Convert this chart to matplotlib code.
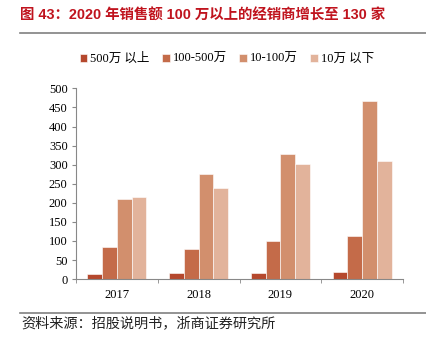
import numpy as np
import matplotlib.pyplot as plt
from matplotlib.lines import Line2D

plt.rcParams['font.family'] = ['Liberation Serif', 'Noto Sans CJK SC']

years = ['2017', '2018', '2019', '2020']
series_names = ['500万 以上', '100-500万', '10-100万', '10万 以下']
above_500 = [13, 16, 17, 19]
from_100_500 = [84, 78, 101, 113]
from_10_100 = [210, 276, 328, 468]
below_10 = [215, 239, 303, 309]
colors = ['#B5482D', '#C46B49', '#D28F6D', '#E2B39B']

fig = plt.figure(figsize=(4.27, 3.48), dpi=100)
ax = fig.add_axes([0.178, 0.198, 0.766, 0.548])

x = np.arange(len(years))
w = 0.18
all_series = [above_500, from_100_500, from_10_100, below_10]
for i, vals in enumerate(all_series):
    ax.bar(x + (i - 1.5) * w, vals, w, color=colors[i], edgecolor='white',
           linewidth=0.4, label=series_names[i])

ax.set_xlim(-0.5, 3.5)
ax.set_ylim(0, 500)
ax.set_yticks(range(0, 501, 50))
ax.set_xticks(x)
ax.set_xticklabels(years, fontsize=9)
ax.set_xticks(np.arange(-0.5, 3.6, 1), minor=True)
ax.tick_params(axis='x', which='major', length=0, pad=7)
ax.tick_params(axis='x', which='minor', length=3, color='#888888', direction='out')
ax.tick_params(axis='y', labelsize=9, length=3, color='#888888', pad=3)
for s in ['top', 'right']:
    ax.spines[s].set_visible(False)
for s in ['left', 'bottom']:
    ax.spines[s].set_color('#888888')
    ax.spines[s].set_linewidth(0.8)

leg = fig.legend(loc='upper left', bbox_to_anchor=(0.16, 0.88), ncol=4, frameon=False,
                 fontsize=9, handlelength=0.6, handleheight=0.6, handletextpad=0.25,
                 columnspacing=1.0)

fig.text(0.048, 0.955, '图 43：2020 年销售额 100 万以上的经销商增长至 130 家',
         fontsize=10.4, fontweight='bold', color='#C0141E', va='center',
         family=['Liberation Sans', 'Noto Sans CJK SC'])
fig.add_artist(Line2D([0.047, 1.0], [0.905, 0.905], color='#808080', linewidth=1.2))
fig.add_artist(Line2D([0.047, 1.0], [0.101, 0.101], color='#808080', linewidth=1.2))
fig.text(0.05, 0.071, '资料来源：招股说明书，浙商证券研究所', fontsize=10.2, color='#222222',
         va='center', family=['Noto Sans CJK SC'])

fig.savefig('out.png', dpi=100)
